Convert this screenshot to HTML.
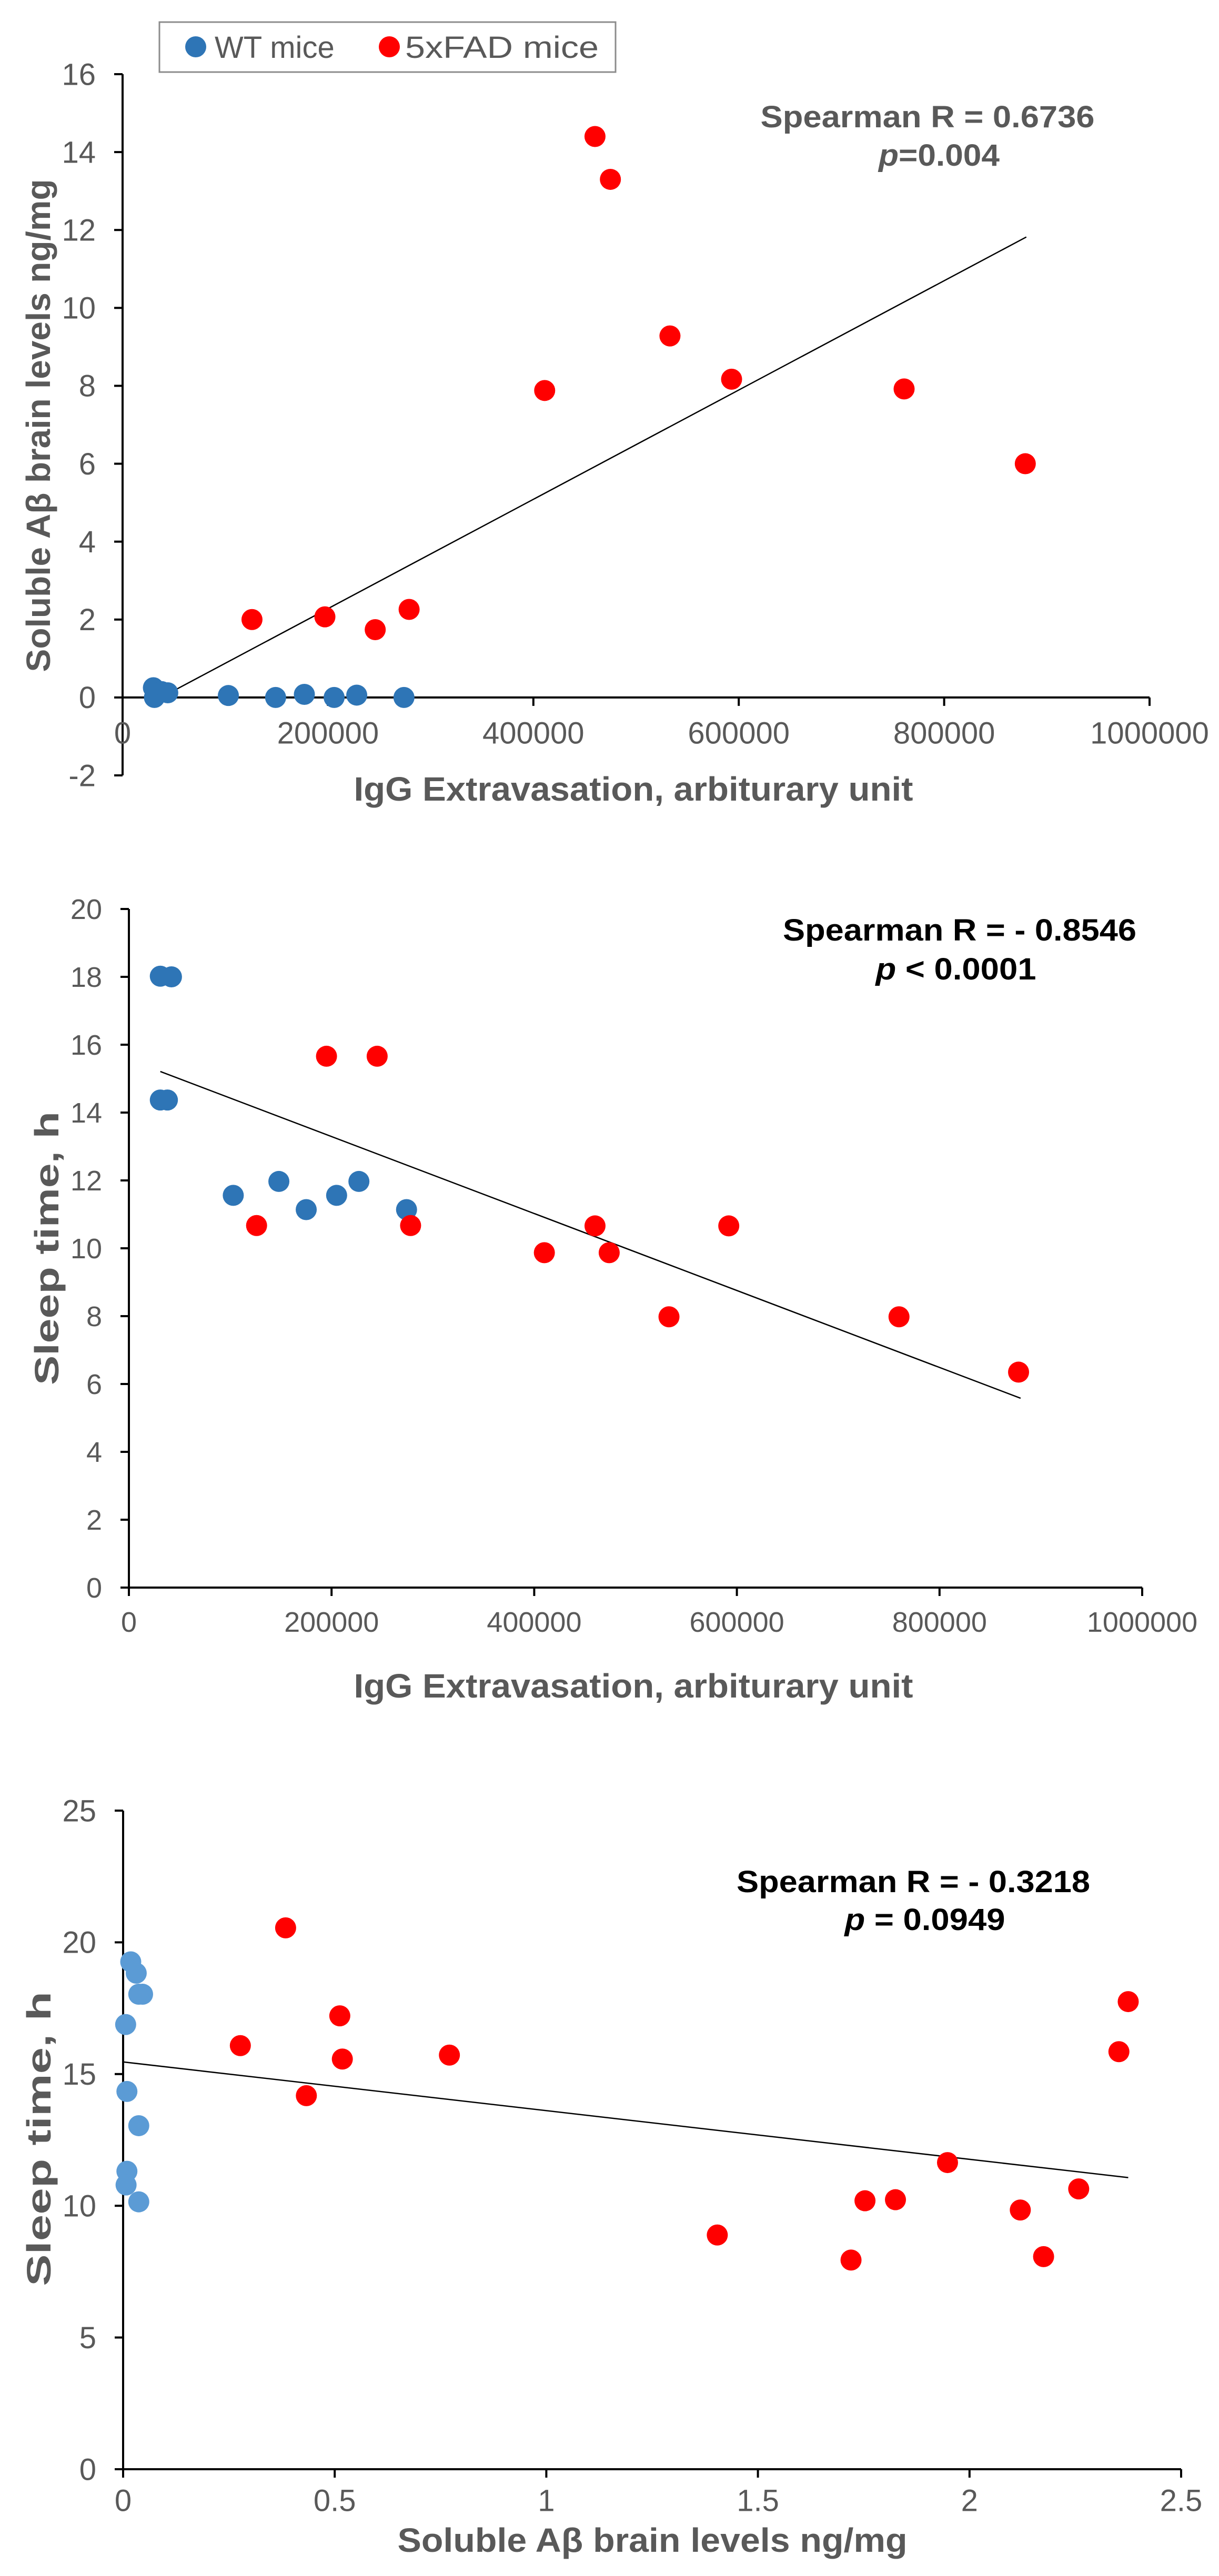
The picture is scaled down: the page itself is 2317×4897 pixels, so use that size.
<!DOCTYPE html>
<html><head><meta charset="utf-8"><style>
html,body{margin:0;padding:0;background:#fff;}
svg{display:block;}
text{font-family:"Liberation Sans",sans-serif;}
</style></head>
<body>
<svg id="fig" width="2317" height="4897" viewBox="0 0 2317 4897" xmlns="http://www.w3.org/2000/svg">
<rect width="2317" height="4897" fill="#fff"/>
<g>
<rect x="303" y="42" width="867" height="95" fill="#fff" stroke="#8c8c8c" stroke-width="3"/>
<circle cx="372" cy="89" r="20" fill="#2E75B6"/>
<text x="408" y="110" font-size="58" fill="#595959">WT mice</text>
<circle cx="740" cy="89" r="20" fill="#FF0000"/>
<text x="770" y="110" font-size="58" fill="#595959" textLength="368" lengthAdjust="spacingAndGlyphs">5xFAD mice</text>
</g>
</svg>
<script>
// ---------- Chart 1 data ----------
const c1WtX = [30000,31000,38000,44000,103000,149000,177000,206000,228000,274000];
const c1WtY = [0.25,0.0,0.15,0.12,0.05,0,0.08,0,0.06,0];
const c1FadX = [126000,197000,246000,279000,411000,460000,475000,533000,593000,761000,879000];
const c1FadY = [2.0,2.07,1.74,2.26,7.88,14.4,13.3,9.28,8.17,7.92,6.0];
const c1TrendX = [31000,880000];
const c1TrendY = [-0.09,11.82];
const c1XTicks = [0,200000,400000,600000,800000,1000000];
const c1YTicks = [-2,0,2,4,6,8,10,12,14,16];
// ---------- Chart 2 data ----------
const c2WtX = [31000,42000,31000,38000,103000,148000,175000,205000,227000,274000];
const c2WtY = [18.02,18.0,14.37,14.37,11.56,11.97,11.14,11.56,11.97,11.14];
const c2FadX = [126000,195000,245000,278000,410000,460000,474000,533000,592000,760000,878000];
const c2FadY = [10.67,15.66,15.66,10.67,9.87,10.66,9.87,7.98,10.66,7.98,6.35];
const c2TrendX = [31000,880000];
const c2TrendY = [15.21,5.58];
const c2XTicks = [0,200000,400000,600000,800000,1000000];
const c2YTicks = [0,2,4,6,8,10,12,14,16,18,20];
// ---------- Chart 3 data ----------
const c3WtX = [0.018,0.031,0.037,0.046,0.006,0.009,0.037,0.009,0.007,0.037];
const c3WtY = [19.26,18.83,18.03,18.03,16.88,14.34,13.04,11.31,10.79,10.15];
const c3FadX = [0.277,0.384,0.433,0.512,0.518,0.771,1.404,1.72,1.753,1.825,1.948,2.12,2.175,2.258,2.353,2.375];
const c3FadY = [16.08,20.55,14.18,17.21,15.57,15.72,8.89,7.94,10.19,10.23,11.64,9.84,8.07,10.64,15.85,17.75];
const c3TrendX = [0,2.375];
const c3TrendY = [15.46,11.07];
const c3XTicks = [0,0.5,1,1.5,2,2.5];
const c3YTicks = [0,5,10,15,20,25];

const NS = "http://www.w3.org/2000/svg";
const svg = document.getElementById('fig');
function mk(tag, attrs, parent){
  const e = document.createElementNS(NS, tag);
  for (const k in attrs) e.setAttribute(k, attrs[k]);
  (parent||svg).appendChild(e);
  return e;
}
function chart(o){
  const g = mk('g', {});
  
  
  const sx = v => o.x0 + (v - o.xmin) / (o.xmax - o.xmin) * (o.x1 - o.x0);
  const sy = v => o.y0 - (v - o.ymin) / (o.ymax - o.ymin) * (o.y0 - o.y1);
  const axY = sy(o.xAxisAt);
  const fs = o.tickFont;
  const ya = mk('line', {x1:o.x0, y1:sy(o.ymin), x2:o.x0, y2:sy(o.ymax), stroke:'#000', 'stroke-width':4}, g);
  
  
  const xa = mk('line', {x1:o.x0, y1:axY, x2:o.x1, y2:axY, stroke:'#000', 'stroke-width':4}, g);
  
  
  o.yTicks.forEach(t => {
    const y = sy(t);
    mk('line', {x1:o.x0-16, y1:y, x2:o.x0, y2:y, stroke:'#000', 'stroke-width':4}, g);
    const tx = mk('text', {x:o.yLabelRight, y:y+fs*0.35, 'font-size':fs, fill:'#595959', 'text-anchor':'end'}, g);
    
    
    tx.textContent = String(t);
  });
  o.xTicks.forEach(t => {
    const x = sx(t);
    mk('line', {x1:x, y1:axY, x2:x, y2:axY+16, stroke:'#000', 'stroke-width':4}, g);
    const tx = mk('text', {x:x, y:o.xLabelY+fs*0.35, 'font-size':fs, fill:'#595959', 'text-anchor':'middle'}, g);
    
    
    tx.textContent = String(t);
  });
  const tl = mk('line', {x1:sx(o.tx[0]), y1:sy(o.ty[0]), x2:sx(o.tx[1]), y2:sy(o.ty[1]), stroke:'#000', 'stroke-width':2.5}, g);
  
  
  o.wx.forEach((v,i) => {
    const c = mk('circle', {cx:sx(v), cy:sy(o.wy[i]), r:20, fill:o.wtColor}, g);
    
    
  });
  o.fx.forEach((v,i) => {
    const c = mk('circle', {cx:sx(v), cy:sy(o.fy[i]), r:20, fill:'#FF0000'}, g);
    
    
  });
  const xt = mk('text', {x:o.xtX, y:o.xtY+22, 'font-size':64, 'font-weight':'bold', fill:'#595959', 'text-anchor':'middle', textLength:o.xtLen, lengthAdjust:'spacingAndGlyphs'}, g);
  
  
  xt.textContent = o.xTitle;
  const yt = mk('text', {x:0, y:0, 'font-size':64, 'font-weight':'bold', fill:'#595959', 'text-anchor':'middle', transform:'translate('+(o.ytX+22)+','+o.ytY+') rotate(-90)', textLength:o.ytLen, lengthAdjust:'spacingAndGlyphs'}, g);
  
  
  yt.textContent = o.yTitle;
  const a1 = mk('text', {x:o.anX, y:o.anY1, 'font-size':58, 'font-weight':'bold', fill:o.anColor, 'text-anchor':'middle', textLength:o.anLen, lengthAdjust:'spacingAndGlyphs'}, g);
  
  
  a1.textContent = o.an1;
  const a2 = mk('text', {x:o.anX2, y:o.anY2, 'font-size':58, 'font-weight':'bold', fill:o.anColor, 'text-anchor':'middle', textLength:o.anLen2, lengthAdjust:'spacingAndGlyphs'}, g);
  
  
  const ps = mk('tspan', {'font-style':'italic'}, a2);
  ps.textContent = 'p';
  const rest = mk('tspan', {}, a2);
  rest.textContent = o.an2;
}

chart({name:'chart-igg-vs-abeta', x0:233, x1:2185, xmin:0, xmax:1000000, y0:1474, y1:141, ymin:-2, ymax:16, xAxisAt:0,
  xTicks:c1XTicks, yTicks:c1YTicks, yLabelRight:182, xLabelY:1393, tickFont:58,
  wx:c1WtX, wy:c1WtY, fx:c1FadX, fy:c1FadY, tx:c1TrendX, ty:c1TrendY, wtColor:'#2E75B6',
  xTitle:'IgG Extravasation, arbiturary unit', xtX:1204, xtY:1500, xtLen:1063,
  yTitle:'Soluble Aβ brain levels ng/mg', ytX:73, ytY:809, ytLen:937,
  an1:'Spearman R = 0.6736', anX:1763, anY1:242, anLen:635, an2:'=0.004', anX2:1785, anY2:315, anLen2:230, anColor:'#595959'});

chart({name:'chart-igg-vs-sleep', x0:245, x1:2171, xmin:0, xmax:1000000, y0:3018, y1:1728, ymin:0, ymax:20, xAxisAt:0,
  xTicks:c2XTicks, yTicks:c2YTicks, yLabelRight:194, xLabelY:3083, tickFont:54,
  wx:c2WtX, wy:c2WtY, fx:c2FadX, fy:c2FadY, tx:c2TrendX, ty:c2TrendY, wtColor:'#2E75B6',
  xTitle:'IgG Extravasation, arbiturary unit', xtX:1204, xtY:3205, xtLen:1063,
  yTitle:'Sleep time, h', ytX:89, ytY:2373, ytLen:520,
  an1:'Spearman R = - 0.8546', anX:1824, anY1:1788, anLen:672, an2:' < 0.0001', anX2:1817, anY2:1862, anLen2:305, anColor:'#000'});

chart({name:'chart-abeta-vs-sleep', x0:234, x1:2245, xmin:0, xmax:2.5, y0:4694, y1:3442, ymin:0, ymax:25, xAxisAt:0,
  xTicks:c3XTicks, yTicks:c3YTicks, yLabelRight:183, xLabelY:4753, tickFont:58,
  wx:c3WtX, wy:c3WtY, fx:c3FadX, fy:c3FadY, tx:c3TrendX, ty:c3TrendY, wtColor:'#5B9BD5',
  xTitle:'Soluble Aβ brain levels ng/mg', xtX:1240, xtY:4829, xtLen:969,
  yTitle:'Sleep time, h', ytX:74, ytY:4066, ytLen:560,
  an1:'Spearman R = - 0.3218', anX:1736, anY1:3597, anLen:672, an2:' = 0.0949', anX2:1758, anY2:3669, anLen2:305, anColor:'#000'});
</script>
</body></html>
